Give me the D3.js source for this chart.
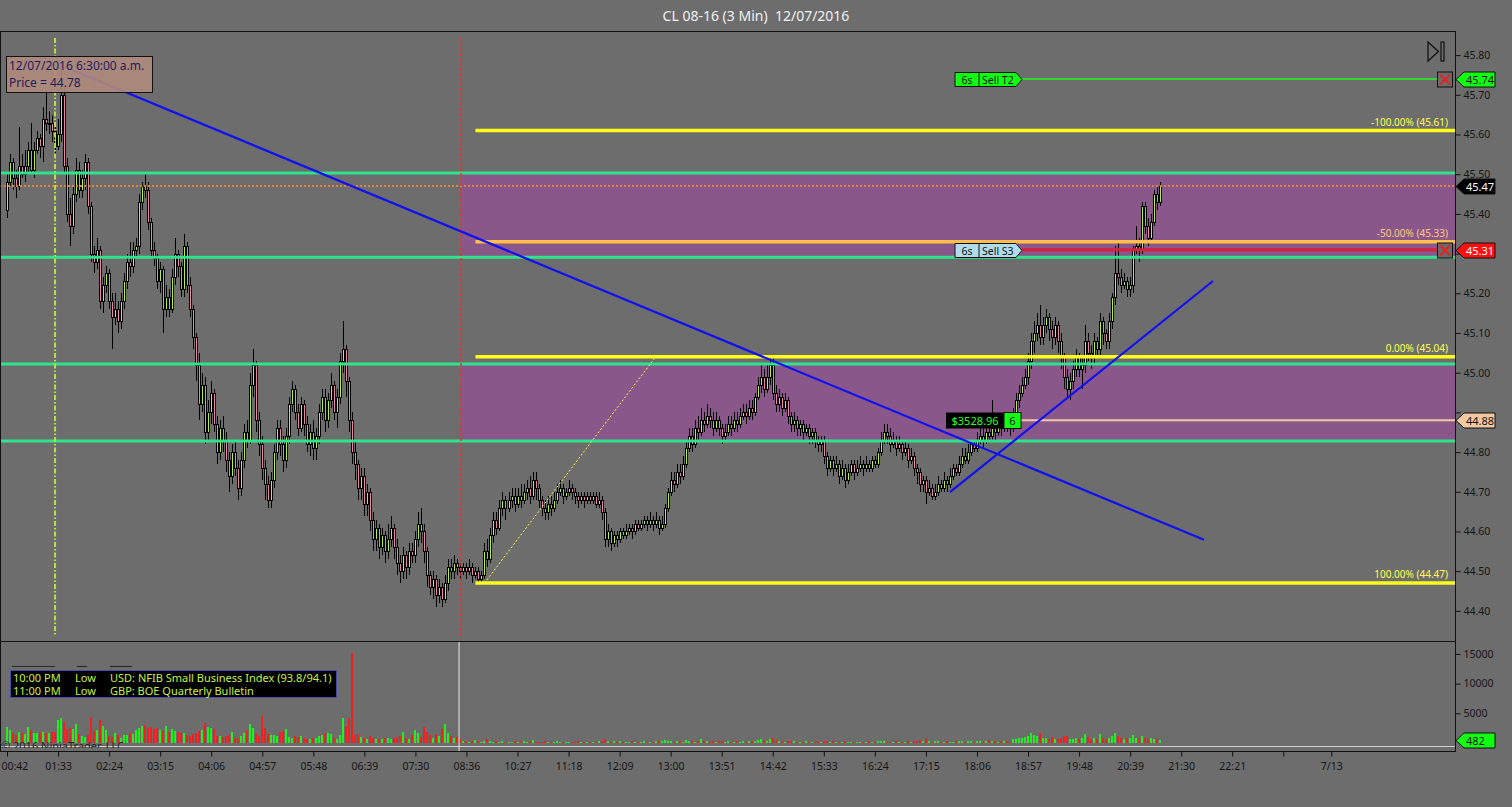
<!DOCTYPE html>
<html><head><meta charset="utf-8">
<script src="https://cdn.jsdelivr.net/npm/d3@7"></script>
<style>
html,body{margin:0;padding:0;background:#6d6d6d;overflow:hidden}
svg{display:block}
text{font-family:"Noto Sans","DejaVu Sans",sans-serif}
</style></head><body>
<svg id="c" width="1512" height="807"></svg>
<script>
// ---------- DATA (prices in cents) ----------
const opens = [
4541,4548,4553,4549,4547,4552,4550,4552,4556,4551,4556,4559,4557,4564,4563,4563,4561,4557,4560,4570,
4552,4540,4537,4545,4551,4546,4549,4553,4542,4530,4528,4531,4518,4522,4525,4518,4514,
4516,4513,4518,4523,4528,4527,4531,4532,4543,4547,4546,4538,4531,4529,4523,4526,4516,
4519,4516,4524,4530,4527,4521,4532,4522,4516,4509,4502,4492,4497,4485,
4490,4495,4487,4480,4486,4483,4478,4474,4480,4476,4471,4478,4485,4483,4497,4502,4488,
4482,4476,4472,4468,4473,4480,4486,4482,4478,4484,4492,4496,4490,4486,4492,4487,4482,
4485,4481,4484,4490,4494,4488,4493,4497,4490,4494,4503,4506,4498,4488,4480,4477,4471,
4474,4467,4470,4463,4458,4461,4456,4459,4455,4458,4461,4456,4452,4450,4454,4451,4455,
4454,4458,4462,4460,4455,4449,4446,4448,4444,4446,4443,4447,4451,4450,4452,4451,4450,
4451,4450,4451,4449,4450,4448,4449,4455,4453,4459,4463,4461,4466,4468,4466,4468,4469,
4467,4469,4468,4470,4471,4469,4473,4471,4468,4466,4465,4467,4466,4468,4470,4471,4469,
4470,4471,4470,4469,4468,4469,4468,4469,4468,4469,4467,4468,4465,4458,4460,4457,4459,
4458,4460,4459,4460,4461,4460,4462,4461,4462,4463,4462,4463,4462,4463,4461,4462,4466,
4470,4473,4472,4475,4474,4477,4481,4484,4482,4486,4485,4488,4487,4489,4488,4486,4488,
4486,4484,4485,4487,4486,4488,4487,4489,4490,4489,4491,4490,4494,4497,4499,4496,4499,
4502,4495,4492,4494,4491,4493,4489,4487,4488,4486,4487,4485,4486,4484,4485,4483,4482,
4483,4479,4476,4478,4476,4477,4474,4476,4473,4475,4477,4475,4476,4477,4476,4477,4476,
4478,4477,4480,4483,4485,4484,4482,4483,4481,4482,4480,4481,4478,4479,4476,4475,4472,
4473,4470,4471,4469,4470,4472,4471,4473,4472,4474,4476,4475,4477,4479,4478,4480,4482,
4481,4483,4484,4483,4485,4484,4486,4485,4487,4486,4488,4487,4486,4489,4493,4495,4497,
4499,4503,4508,4510,4512,4509,4512,4514,4511,4509,4512,4508,4504,4499,4496,4498,4501,
4504,4501,4502,4508,4505,4504,4508,4506,4513,4510,4508,4513,4519,4525,4524,4522,4523,
4521,4522,4531,4532,4531,4542,4537,4534,4538,4545,4543];
const highs = [
4550,4555,4554,4551,4562,4555,4556,4558,4563,4558,4561,4560,4567,4571,4566,4565,4562,4564,4578,4572,
4554,4544,4547,4554,4553,4551,4555,4554,4543,4532,4534,4532,4524,4527,4526,4520,4520,
4518,4520,4525,4530,4533,4533,4534,4545,4548,4550,4548,4539,4533,4530,4528,4527,4522,
4521,4526,4534,4531,4528,4535,4533,4524,4517,4510,4505,4500,4499,4493,
4498,4496,4489,4488,4489,4485,4480,4482,4483,4478,4480,4487,4488,4500,4506,4503,4490,
4484,4478,4474,4475,4482,4488,4488,4484,4486,4494,4498,4497,4492,4494,4493,4489,4487,
4488,4486,4492,4496,4496,4495,4500,4498,4496,4505,4513,4507,4499,4490,4483,4478,4476,
4476,4472,4471,4465,4463,4462,4461,4460,4462,4464,4462,4458,4454,4456,4455,4457,4457,
4460,4465,4466,4462,4456,4450,4450,4449,4448,4447,4449,4453,4453,4454,4453,4452,4452,
4452,4453,4452,4451,4451,4450,4457,4458,4461,4465,4465,4468,4470,4469,4470,4471,4471,
4471,4472,4472,4473,4474,4475,4475,4472,4469,4468,4469,4469,4470,4472,4473,4472,4471,
4473,4472,4471,4470,4470,4470,4470,4470,4470,4470,4470,4469,4466,4462,4461,4460,4460,
4461,4461,4462,4462,4462,4463,4463,4463,4464,4464,4465,4464,4465,4464,4464,4467,4471,
4475,4475,4477,4477,4479,4483,4486,4486,4488,4489,4491,4490,4492,4491,4490,4490,4489,
4487,4487,4489,4489,4490,4490,4491,4492,4492,4493,4493,4495,4499,4502,4501,4502,4504,
4504,4497,4496,4495,4495,4494,4490,4490,4489,4488,4488,4487,4487,4486,4486,4484,4484,
4484,4480,4479,4479,4479,4478,4478,4477,4477,4478,4478,4478,4479,4478,4479,4478,4479,
4479,4481,4485,4487,4487,4486,4485,4484,4484,4483,4483,4482,4481,4480,4477,4476,4474,
4474,4473,4472,4472,4474,4473,4475,4474,4476,4477,4477,4479,4481,4481,4482,4483,4483,
4485,4486,4486,4487,4487,4493,4488,4489,4488,4490,4489,4489,4491,4495,4497,4499,4501,
4505,4510,4513,4515,4517,4514,4516,4515,4513,4514,4513,4510,4505,4501,4500,4503,4506,
4505,4504,4512,4510,4507,4510,4509,4515,4514,4511,4515,4520,4532,4533,4526,4525,4524,
4524,4532,4537,4534,4543,4543,4539,4540,4546,4547,4548];
const lows = [
4539,4547,4546,4544,4546,4549,4548,4550,4550,4549,4555,4554,4553,4561,4560,4558,4554,4556,4558,4550,
4538,4532,4535,4543,4544,4544,4546,4540,4528,4525,4526,4516,4515,4520,4516,4506,4512,
4510,4511,4516,4521,4524,4525,4529,4530,4541,4544,4536,4529,4527,4521,4520,4510,4514,
4514,4515,4522,4524,4519,4519,4520,4514,4506,4498,4488,4490,4482,4483,
4487,4485,4477,4478,4480,4475,4470,4472,4474,4468,4469,4476,4481,4482,4494,4485,4479,
4473,4468,4466,4466,4471,4478,4479,4475,4476,4482,4490,4488,4484,4485,4484,4480,4479,
4478,4478,4482,4488,4485,4486,4491,4488,4486,4492,4500,4494,4485,4477,4473,4468,4468,
4464,4464,4460,4455,4455,4453,4454,4452,4453,4456,4453,4449,4447,4448,4448,4449,4452,
4452,4456,4457,4452,4446,4444,4443,4441,4442,4441,4442,4445,4448,4448,4449,4448,4449,
4448,4449,4447,4448,4447,4447,4448,4451,4452,4457,4459,4460,4464,4463,4465,4466,4465,
4466,4466,4467,4468,4467,4468,4468,4466,4464,4463,4463,4464,4465,4467,4469,4467,4468,
4469,4468,4467,4466,4467,4466,4467,4467,4467,4466,4466,4463,4456,4456,4455,4456,4456,
4457,4458,4458,4459,4458,4459,4460,4460,4461,4460,4461,4460,4461,4459,4460,4461,4465,
4469,4470,4471,4472,4473,4476,4480,4480,4481,4483,4484,4485,4486,4486,4484,4485,4484,
4482,4483,4484,4484,4485,4485,4486,4488,4487,4488,4488,4489,4493,4495,4494,4495,4497,
4493,4490,4490,4489,4490,4487,4485,4485,4484,4484,4483,4484,4482,4482,4481,4480,4480,
4477,4474,4475,4474,4475,4472,4473,4471,4472,4474,4473,4474,4475,4474,4475,4475,4475,
4476,4476,4479,4482,4482,4480,4481,4479,4480,4478,4479,4476,4477,4474,4472,4470,4470,
4467,4469,4468,4468,4469,4470,4470,4470,4471,4473,4474,4474,4476,4477,4477,4479,4480,
4480,4482,4481,4482,4483,4483,4483,4484,4484,4485,4485,4484,4485,4488,4491,4494,4496,
4497,4501,4505,4508,4507,4507,4510,4508,4506,4507,4505,4501,4496,4494,4493,4496,4499,
4499,4496,4500,4503,4501,4502,4504,4504,4507,4506,4506,4511,4517,4522,4520,4521,4519,
4519,4520,4530,4528,4530,4535,4532,4533,4537,4541,4542];
const closes = [
4548,4553,4549,4547,4552,4550,4552,4556,4551,4556,4559,4557,4564,4563,4563,4561,4557,4560,4570,4552,
4540,4537,4545,4551,4546,4549,4553,4542,4530,4528,4531,4518,4522,4525,4518,4514,4516,
4513,4518,4523,4528,4527,4531,4532,4543,4547,4546,4538,4531,4529,4523,4526,4516,4519,
4516,4524,4530,4527,4521,4532,4522,4516,4509,4502,4492,4497,4485,4490,
4495,4487,4480,4486,4483,4478,4474,4480,4476,4471,4478,4485,4483,4497,4502,4488,4482,
4476,4472,4468,4473,4480,4486,4482,4478,4484,4492,4496,4490,4486,4492,4487,4482,4485,
4481,4484,4490,4494,4488,4493,4497,4490,4494,4503,4506,4498,4488,4480,4477,4471,4474,
4467,4470,4463,4458,4461,4456,4459,4455,4458,4461,4456,4452,4450,4454,4451,4455,4454,
4458,4462,4460,4455,4449,4446,4448,4444,4446,4443,4447,4451,4450,4452,4451,4450,4451,
4450,4451,4449,4450,4448,4449,4455,4453,4459,4463,4461,4466,4468,4466,4468,4469,4467,
4469,4468,4470,4471,4469,4473,4471,4468,4466,4465,4467,4466,4468,4470,4471,4469,4470,
4471,4470,4469,4468,4469,4468,4469,4468,4469,4467,4468,4465,4458,4460,4457,4459,4458,
4460,4459,4460,4461,4460,4462,4461,4462,4463,4462,4463,4462,4463,4461,4462,4466,4470,
4473,4472,4475,4474,4477,4481,4484,4482,4486,4485,4488,4487,4489,4488,4486,4488,4486,
4484,4485,4487,4486,4488,4487,4489,4490,4489,4491,4490,4494,4497,4499,4496,4499,4502,
4495,4492,4494,4491,4493,4489,4487,4488,4486,4487,4485,4486,4484,4485,4483,4482,4483,
4479,4476,4478,4476,4477,4474,4476,4473,4475,4477,4475,4476,4477,4476,4477,4476,4478,
4477,4480,4483,4485,4484,4482,4483,4481,4482,4480,4481,4478,4479,4476,4475,4472,4473,
4470,4471,4469,4470,4472,4471,4473,4472,4474,4476,4475,4477,4479,4478,4480,4482,4481,
4483,4484,4483,4485,4484,4486,4485,4487,4486,4488,4487,4486,4489,4493,4495,4497,4499,
4503,4508,4510,4512,4509,4512,4514,4511,4509,4512,4508,4504,4499,4496,4498,4501,4504,
4501,4502,4508,4505,4504,4508,4506,4513,4510,4508,4513,4519,4525,4524,4522,4523,4521,
4522,4531,4532,4531,4542,4537,4534,4538,4545,4543,4547];
const volumes = [
2700,2200,1600,1400,1900,1700,1500,2700,2200,1600,1700,1900,1800,1700,1600,1800,1900,
3900,4200,3500,2400,2600,2400,3200,1500,1100,1000,1300,4400,2000,2200,3900,2800,2200,
1200,1000,1700,1400,900,1300,1400,1700,1500,2200,2500,2900,3000,2600,2700,2400,2500,
2200,2000,2900,1800,2300,2000,1900,1700,1600,1400,1200,1500,1700,2000,2200,3300,2700,
2500,2400,1200,1100,1000,1200,1400,1900,900,800,1100,1700,2200,3200,2600,1600,1100,
4500,2600,1500,1400,1300,1200,1900,2100,2400,1000,800,1100,1000,1100,800,700,600,
800,900,1100,1300,1700,1600,1500,900,700,1300,4200,2900,4200,15200,1400,1500,1000,
900,700,1100,900,700,600,600,800,900,600,800,1000,1200,1800,900,700,1400,
2200,1600,1000,2700,1900,1300,900,1500,1100,2300,3200,1700,1200,800,1000,700,300,
400,200,300,500,300,200,400,600,300,200,300,200,300,200,100,200,300,
200,300,400,200,300,500,200,100,200,300,200,100,200,300,200,100,200,
200,100,200,300,100,200,100,200,100,200,300,400,600,300,200,300,200,
300,200,100,200,300,200,100,200,300,200,100,200,300,400,300,500,400,
300,200,400,300,200,500,400,300,200,300,600,400,300,200,300,200,400,
300,200,300,200,100,300,200,300,200,300,400,300,500,600,400,300,700,
800,500,400,300,200,300,400,300,200,100,200,300,200,100,200,300,200,
400,300,200,300,200,100,200,300,200,100,200,100,200,100,200,300,200,
200,300,400,300,200,100,200,300,200,100,200,300,200,400,300,500,400,
600,300,200,300,400,200,100,300,200,100,300,400,300,200,400,300,200,
300,400,200,300,500,400,300,200,300,400,300,200,600,700,800,900,1000,
1200,1700,1400,1100,1700,900,800,700,1000,600,700,800,1100,1200,600,700,900,
600,800,1500,1000,700,900,600,1500,800,700,900,1200,1600,1100,800,700,900,
800,1300,900,700,1100,900,600,800,700,600,482];

const timeTickBars   = [0,17,34,51,68,85,102,119,136,153,170,187,204,221,238,255,272,289,306,323,340,357,374,391,408,425,441];
const timeTickLabels = ["00:42","01:33","02:24","03:15","04:06","04:57","05:48","06:39","07:30","08:36","10:27","11:18","12:09","13:00","13:51","14:42","15:33","16:24","17:15","18:06","18:57","19:48","20:39","21:30","22:21","","7/13"];
const priceTicks = [44.4,44.5,44.6,44.7,44.8,44.9,45.0,45.1,45.2,45.3,45.4,45.5,45.6,45.7,45.8];
const volumeTicks = [5000,10000,15000];

const pivotLevels = [45.503, 45.291, 45.022, 44.828];
const zoneTop = [45.503, 45.022];
const zoneBottom = [45.291, 44.828];
const fibLevels = [45.61, 45.33, 45.04, 44.47];
const fibLabels = ["-100.00% (45.61)", "-50.00% (45.33)", "0.00% (45.04)", "100.00% (44.47)"];
const fibAnchorBars = [159, 216];
const fibAnchorPrices = [44.47, 45.04];
const trendStartBars = [19.3, 314.0];
const trendStartPrices = [45.770, 44.699];
const trendEndBars = [398.6, 401.6];
const trendEndPrices = [44.579, 45.231];
const lastPrice = 45.47;
const targetPrice = 45.74;
const stopPrice = 45.31;
const entryPrice = 44.88;
const pnlText = "$3528.96";
const positionQty = "6";
const lastVolume = 482;
const sessionBreakBar = 151.2;
const crosshairBar = 16;
const events = [["10:00 PM","Low","USD: NFIB Small Business Index (93.8/94.1)"],["11:00 PM","Low","GBP: BOE Quarterly Bulletin"]];

// ---------- LAYOUT ----------
const W=1512, H=807, R=1455, pTop=31, pBot=640, vTop=641, vBot=747, axY=751;
const BG="#6d6d6d";
const x = d3.scaleLinear().domain([0,1]).range([7,7+3.003]);
const y = d3.scaleLinear().domain([44.3267,45.8607]).range([pBot,pTop]);
const yv = d3.scaleLinear().domain([0,17170]).range([743,vTop]);
const c = v => v/100;

const svg = d3.select("#c");
svg.append("rect").attr("width",W).attr("height",H).attr("fill",BG);
svg.append("text").attr("x",756).attr("y",21).attr("text-anchor","middle")
  .attr("font-size",14).attr("fill","#f0f0f0").style("white-space","pre")
  .text("CL 08-16 (3 Min)  12/07/2016");

const defs = svg.append("defs");
defs.append("clipPath").attr("id","cp").append("rect").attr("x",1).attr("y",pTop+1).attr("width",R-1).attr("height",pBot-pTop-1);
defs.append("clipPath").attr("id","cv").append("rect").attr("x",1).attr("y",vTop+1).attr("width",R-1).attr("height",vBot-vTop);

const gP = svg.append("g").attr("clip-path","url(#cp)");
const gV = svg.append("g").attr("clip-path","url(#cv)");
const breakX = x(sessionBreakBar);

// zones
zoneTop.forEach((t,k)=>{
  gP.append("rect").attr("x",breakX).attr("y",y(t)).attr("width",R-breakX)
    .attr("height",y(zoneBottom[k])-y(t)).attr("fill","#8a578a");
});

// candles
const n = Math.min(opens.length,highs.length,lows.length,closes.length);
const gc = gP.append("g").attr("shape-rendering","crispEdges");
for(let i=0;i<n;i++){
  const cx = Math.round(x(i));
  const o=c(opens[i]), h=c(highs[i]), l=c(lows[i]), cl=c(closes[i]);
  const yh=Math.round(y(h)), yl=Math.round(y(l));
  gc.append("rect").attr("x",cx).attr("y",yh).attr("width",1).attr("height",Math.max(1,yl-yh)).attr("fill","#000");
  const yt=Math.round(y(Math.max(o,cl))), yb=Math.round(y(Math.min(o,cl)));
  const bh=Math.max(1,yb-yt);
  gc.append("rect").attr("x",cx-1).attr("y",yt).attr("width",3).attr("height",bh+1).attr("fill","#000");
  if(bh>=2) gc.append("rect").attr("x",cx).attr("y",yt+1).attr("width",1).attr("height",bh-1)
    .attr("fill", cl>=o ? "#b4f03c" : "#ee86ac");
}

// pivot lines
pivotLevels.forEach(p=>{
  gP.append("line").attr("x1",0).attr("x2",R).attr("y1",y(p)).attr("y2",y(p))
    .attr("stroke","#2fe38c").attr("stroke-width",3);
});
// last price dotted line
gP.append("line").attr("x1",0).attr("x2",R).attr("y1",y(lastPrice)).attr("y2",y(lastPrice))
  .attr("stroke","#e0843a").attr("stroke-width",2).attr("stroke-dasharray","2,2");

// fib
const fibX0 = x(156);
fibLevels.forEach((p,k)=>{
  const col = k===1 ? "#ffbf4a" : "#ffff1a";
  gP.append("line").attr("x1",fibX0).attr("x2",R).attr("y1",y(p)).attr("y2",y(p))
    .attr("stroke",col).attr("stroke-width",3.5);
  gP.append("text").attr("x",1448).attr("y",y(p)-5).attr("text-anchor","end")
    .attr("font-size",10).attr("fill", k===1 ? "#ffc87a" : "#ffff50").text(fibLabels[k]);
});
gP.append("line").attr("x1",x(fibAnchorBars[0])).attr("y1",y(fibAnchorPrices[0]))
  .attr("x2",x(fibAnchorBars[1])).attr("y2",y(fibAnchorPrices[1]))
  .attr("stroke","#ffff40").attr("stroke-width",1).attr("stroke-dasharray","2,2");

// vertical lines
gP.append("line").attr("x1",breakX).attr("x2",breakX).attr("y1",38).attr("y2",636)
  .attr("stroke","#ff2a2a").attr("stroke-width",1.5).attr("stroke-dasharray","3,2");
const chX = x(crosshairBar);
gP.append("line").attr("x1",chX).attr("x2",chX).attr("y1",38).attr("y2",636)
  .attr("stroke","#b6e04a").attr("stroke-width",2).attr("stroke-dasharray","5,2,1.5,2");

// order lines
gP.append("line").attr("x1",1022).attr("x2",1437).attr("y1",y(targetPrice)).attr("y2",y(targetPrice))
  .attr("stroke","#35d435").attr("stroke-width",2);
gP.append("line").attr("x1",1022).attr("x2",1437).attr("y1",y(stopPrice)).attr("y2",y(stopPrice))
  .attr("stroke","#dc1e3c").attr("stroke-width",3);
gP.append("line").attr("x1",1021).attr("x2",R).attr("y1",y(entryPrice)).attr("y2",y(entryPrice))
  .attr("stroke","#f2c9a2").attr("stroke-width",2);

// trend lines
trendStartBars.forEach((b,k)=>{
  gP.append("line").attr("x1",x(b)).attr("y1",y(trendStartPrices[k]))
    .attr("x2",x(trendEndBars[k])).attr("y2",y(trendEndPrices[k]))
    .attr("stroke","#1010f0").attr("stroke-width",2.2);
});

// order labels
function orderLabel(p, fill, txt){
  const yc = Math.round(y(p))+0.5;
  const g = gP.append("g");
  g.append("path").attr("d",`M955,${yc-7}H1016L1022,${yc}L1016,${yc+7}H955Z`)
    .attr("fill",fill).attr("stroke","#111").attr("stroke-width",1);
  g.append("line").attr("x1",979).attr("x2",979).attr("y1",yc-7).attr("y2",yc+7).attr("stroke","#111");
  g.append("text").attr("x",967).attr("y",yc+4).attr("text-anchor","middle").attr("font-size",10.5).attr("fill","#111").text("6s");
  g.append("text").attr("x",982).attr("y",yc+4).attr("font-size",10.5).attr("fill","#111").text(txt);
}
orderLabel(targetPrice,"#10ff10","Sell T2");
orderLabel(stopPrice,"#b0dcea","Sell S3");

// X boxes
[targetPrice, stopPrice].forEach(p=>{
  const yc = Math.round(y(p))+0.5;
  gP.append("rect").attr("x",1437.5).attr("y",yc-7.5).attr("width",15).attr("height",15)
    .attr("fill","#6a6a6a").attr("stroke","#111");
  gP.append("path").attr("d",`M1440,${yc-5}L1450,${yc+5}M1450,${yc-5}L1440,${yc+5}`)
    .attr("stroke","#e82020").attr("stroke-width",2);
});

// PnL box
{
  const yc = Math.round(y(entryPrice))+0.5;
  gP.append("rect").attr("x",946).attr("y",yc-8).attr("width",58).attr("height",16).attr("fill","#000");
  gP.append("text").attr("x",975).attr("y",yc+4).attr("text-anchor","middle").attr("font-size",11).attr("fill","#20ff20").text(pnlText);
  gP.append("rect").attr("x",1004).attr("y",yc-8).attr("width",17).attr("height",16).attr("fill","#10ff10").attr("stroke","#111");
  gP.append("text").attr("x",1012.5).attr("y",yc+4).attr("text-anchor","middle").attr("font-size",11).attr("fill","#111").text(positionQty);
}

// info box
gP.append("rect").attr("x",6.5).attr("y",56.5).attr("width",146).attr("height",36)
  .attr("fill","#b08a7c").attr("fill-opacity",0.9).attr("stroke","#111");
gP.append("text").attr("x",9).attr("y",70).attr("font-size",12).attr("fill","#1d1d5e").text("12/07/2016 6:30:00 a.m.");
gP.append("text").attr("x",9).attr("y",87).attr("font-size",12).attr("fill","#1d1d5e").text("Price = 44.78");

// play-to-end icon
gP.append("path").attr("d","M1428,42L1438.5,51.5L1428,61Z").attr("fill","none").attr("stroke","#111").attr("stroke-width",1.3);
gP.append("rect").attr("x",1441).attr("y",42).attr("width",3).attr("height",19).attr("fill","none").attr("stroke","#111").attr("stroke-width",1.2);

// ---------- VOLUME ----------
const gvb = gV.append("g").attr("shape-rendering","crispEdges");
for(let i=0;i<Math.min(n,volumes.length);i++){
  const cx = Math.round(x(i));
  const yt = Math.round(yv(volumes[i]));
  gvb.append("rect").attr("x",cx-1).attr("y",yt).attr("width",2).attr("height",Math.max(1,743-yt))
    .attr("fill", closes[i]>=opens[i] ? "#22ee22" : "#ee2020");
}
gV.append("line").attr("x1",0).attr("x2",R).attr("y1",746.5).attr("y2",746.5).attr("stroke","#d0d0d0").attr("stroke-width",1);
gV.append("text").attr("x",1).attr("y",750).attr("font-size",11).attr("fill","#262626").text("© 2016 NinjaTrader, LLC");
// event box
[[12,55],[77,87],[110,132]].forEach(d=>{
  gV.append("line").attr("x1",d[0]).attr("x2",d[1]).attr("y1",666.5).attr("y2",666.5).attr("stroke","#2a2a2a").attr("stroke-width",1.2);
});
gV.append("rect").attr("x",10.5).attr("y",670.5).attr("width",326).attr("height",27).attr("fill","#000").attr("stroke","#4b4ba8");
events.forEach((e,k)=>{
  const yy = 682+k*13;
  gV.append("text").attr("x",13).attr("y",yy).attr("font-size",11).attr("fill","#c8f046").text(e[0]);
  gV.append("text").attr("x",75).attr("y",yy).attr("font-size",11).attr("fill","#c8f046").text(e[1]);
  gV.append("text").attr("x",110).attr("y",yy).attr("font-size",11).attr("fill","#c8f046").text(e[2]);
});
svg.append("line").attr("x1",breakX-2).attr("x2",breakX-2).attr("y1",vTop).attr("y2",axY)
  .attr("stroke","#e8e8e8").attr("stroke-width",1);

// ---------- FRAMES & AXES ----------
svg.append("rect").attr("x",0.5).attr("y",pTop+0.5).attr("width",R).attr("height",axY-pTop)
  .attr("fill","none").attr("stroke","#111");
svg.append("line").attr("x1",0).attr("x2",R).attr("y1",vTop+0.5).attr("y2",vTop+0.5).attr("stroke","#111");

// flags hide the price labels beneath them
const flagPrices = [targetPrice, lastPrice, stopPrice, entryPrice];
const hidden = p => flagPrices.some(f => Math.abs(y(f)-y(p)) < 11);
const axP = svg.append("g").attr("transform",`translate(${R+0.5},0)`)
  .call(d3.axisRight(y).tickValues(priceTicks).tickFormat(d => hidden(d) ? "" : d3.format(".2f")(d)).tickSize(5).tickPadding(3).tickSizeOuter(0));
const axV = svg.append("g").attr("transform",`translate(${R+0.5},0)`)
  .call(d3.axisRight(yv).tickValues(volumeTicks).tickFormat(d3.format("d")).tickSize(5).tickPadding(3).tickSizeOuter(0));
const axT = svg.append("g").attr("transform",`translate(0,${axY+0.5})`)
  .call(d3.axisBottom(x).tickValues(timeTickBars).tickFormat((d,i)=>timeTickLabels[i]).tickSize(5).tickPadding(6).tickSizeOuter(0));
[axP,axV,axT].forEach(a=>{
  a.select(".domain").remove();
  a.selectAll("line").attr("stroke","#111");
  a.selectAll("text").attr("fill","#151515").attr("font-size",10.5).attr("font-family","Noto Sans");
});
// keep the first time label inside the window
axT.selectAll(".tick text").filter((d,i)=>i===0).attr("text-anchor","start").attr("x",-6);

// ---------- RIGHT FLAGS ----------
function flag(yc, txt, fill, tcol){
  yc = Math.round(yc)+0.5;
  svg.append("path").attr("d",`M1456,${yc}L1464,${yc-7.5}H1495V${yc+7.5}H1464Z`)
    .attr("fill",fill).attr("stroke","#111");
  svg.append("text").attr("x",1466).attr("y",yc+4).attr("font-size",11).attr("fill",tcol).text(txt);
}
flag(y(targetPrice), targetPrice.toFixed(2), "#10ff10", "#111");
flag(y(lastPrice), lastPrice.toFixed(2), "#000", "#fff");
flag(y(stopPrice), stopPrice.toFixed(2), "#ff1010", "#fff");
flag(y(entryPrice), entryPrice.toFixed(2), "#f2c9a2", "#111");
flag(yv(lastVolume), String(lastVolume), "#10ff10", "#111");
</script>
</body></html>
